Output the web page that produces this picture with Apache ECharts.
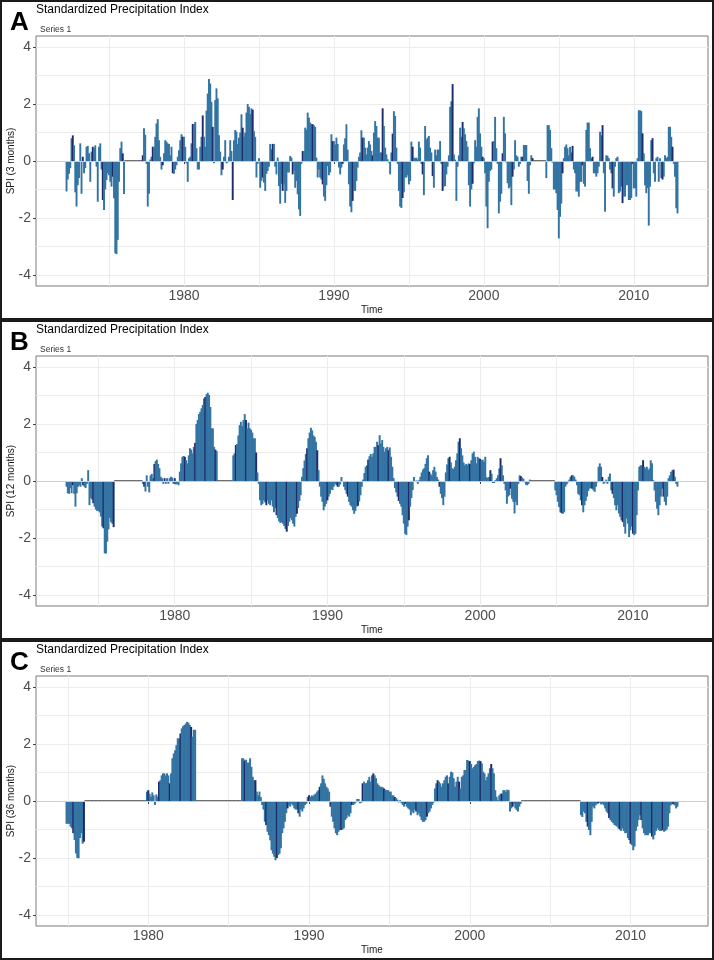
<!DOCTYPE html>
<html>
<head>
<meta charset="utf-8">
<script src="https://cdn.jsdelivr.net/npm/echarts@6/dist/echarts.min.js"></script>
<style>
html,body{margin:0;padding:0;background:#fff;}
#chart{width:714px;height:960px;}
</style>
</head>
<body>
<div id="chart"></div>
<script>
// ---------------- DATA ----------------
const chartTitle = 'Standardized Precipitation Index';
const seriesName = 'Series 1';
const panelLetters = ['A', 'B', 'C'];
const yAxisNames = ['SPI (3 months)', 'SPI (12 months)', 'SPI (36 months)'];
const xAxisName = 'Time';
const xTickLabels = [1980, 1990, 2000, 2010];
const xGridValues = [1975, 1980, 1985, 1990, 1995, 2000, 2005, 2010];
const yTickLabels = [-4, -2, 0, 2, 4];
const yGridValues = [-4, -3, -2, -1, 0, 1, 2, 3, 4];

// SPI 3 months, monthly from Mar 1972
const spi3Start = [1972, 3];
const spi3_1970s = [
  -1.07, -0.65, -0.45, -0.25, 0.8, 0.9, 0.55, -1.1, -1.6, -0.85,
  -0.6, 0.62, -1.15, 0.15, -0.43, -0.25, 0.5, 0.53, 0.27, -0.73, 0.33, 0.5,
  0.45, 0.55, -0.2, -1.43, 0.5, 0.62, -0.3, -1.37, -1.72, -1.0, -0.67, -0.43,
  -0.5, -0.73, -0.9, -0.55, -1.31, -3.24, -3.27, -2.77, -0.73, 0.45, 0.68, 0.27,
  -1.16, 0, 0, 0, 0, 0, 0, 0, 0, 0, 0, 0,
  0, 0, 0, 0.2, 1.15, 0.92, -0.1, -1.6, -1.15, 0.05, 0.15, 0.5,
  0.5, 0.85, 1.32, 1.47, 0.73, 0.15, -0.3, -0.15, 0.27, 0.73, 0.68, 0.62,
  0.6, 0.2, 0.5, -0.43, -0.45, -0.3, -0.15, 0.15, 0.38, 0.73, 0.94, 0.85
];
const spi3_1980s = [
  0.85, 0.5, -0.08, -0.73, 0.1, 0.15, 0.62, 1.3, 1.3, 1.37, 0.45, -0.3,
  -0.3, 0.5, 0.85, 1.6, 0.85, 0.5, 1.77, 2.37, 2.88, 2.72, 2.08, 1.2,
  -0.08, 2.14, 2.55, 2.2, 0.9, 0.33, -0.5, -0.3, 0.15, 0.73, -0.08, -0.05,
  0.15, 0.73, 0.35, -1.37, 0.73, 1.09, 1.03, 0.6, 0.82, 1.0, 1.64, 1.17,
  0.85, 1.0, 1.7, 2.0, 1.9, 1.65, 1.85, 1.8, 1.05, 0.85, -0.58, -0.1,
  0.1, -0.94, -0.7, -0.58, -0.76, -1.05, -0.45, -0.35, -0.2, 0.6, 0.41, 0.6,
  0.6, -0.2, -0.47, 0.12, -0.88, -1.5, -0.8, -1.05, -0.82, -1.47, -1.05, -0.4,
  -0.4, 0.18, 0.12, -0.47, -0.35, -0.94, -0.7, -1.17, -1.7, -1.93, -0.1, 0.35,
  0.35, 1.17, 1.1, 1.7, 1.52, 1.35, 1.3, 1.29, 1.25, 1.2, 0.12, -0.58,
  -0.3, -0.58, -0.65, -0.82, -1.25, -1.4, -0.85, -0.18, -0.5, -0.4, 0.94, 0.7
];
const spi3_1990s = [
  0.7, 0.58, 0.82, 0.6, -0.23, -0.47, -0.23, -0.1, 0.58, 0.8, 1.29, 0.4,
  -0.82, -1.6, -1.8, -1.4, -1.05, -1.05, -0.7, -0.23, 0.15, 0.3, 1.08, 0.82,
  0.82, 0.47, 0.23, 0.47, 0.7, 0.58, 0.35, 0.2, 1.0, 1.4, 1.23, 0.82,
  0.82, 0.3, 0.3, 1.85, 1.23, 0.47, 0.23, 0.06, -0.06, -0.47, 0.3, 0.96,
  1.75, 1.58, 0.47, -0.1, -1.05, -1.6, -1.65, -1.3, -1.1, -0.58, -0.58, -0.5,
  -0.82, -0.7, 0.68, 0.5, 0.12, 0.1, 0.12, 0.06, 0.68, 0.47, -0.1, -0.47,
  -1.2, 1.23, 0.76, 0.82, 0.88, 0.47, 0.3, -0.53, -0.94, 0.4, 0.2, 0.4,
  0.4, 0.7, -0.1, -1.05, -0.9, -0.88, -0.47, -0.2, 0.2, 1.9, 2.1, 2.7,
  0.23, 0.05, -1.4, -0.2, 0.2, 1.17, 0.85, 1.37, 1.15, 0.94, 0.7, 0.5,
  -0.85, -1.6, -1.0, -0.8, -0.08, 0.73, 0.5, 1.55, 1.85, 0.97, 0.5, 0.15
];
const spi3_2000s = [
  0.1, -0.43, -1.6, -2.36, -0.73, -0.35, -0.3, 0.68, 0.7, 1.55, 0.45, -0.1,
  -1.84, -1.43, -1.15, 0.27, 1.55, 0.97, -0.05, -0.78, -0.96, -0.9, -1.55, -0.55,
  -0.3, 0.73, 0.2, 0.15, -0.2, -0.1, 0.15, 0.15, 0.56, 0.56, 0.56, -0.7,
  -1.15, -0.15, 0.2, 0.1, 0, 0, 0, 0, 0, 0, 0, 0,
  0, 0, -0.6, 1.26, 1.26, 1.09, 0.45, -0.05, -1.0, -1.0, -1.13, -1.72,
  -2.72, -1.96, -1.5, -0.43, 0.1, 0.5, 0.58, 0.45, 0.2, 0.5, 0.3, 0.53,
  -0.3, -0.43, -1.07, -1.07, -1.25, -0.73, -0.73, -0.15, -0.8, -0.9, 1.09, 1.35,
  1.35, 0.45, 0.1, 0.15, -0.43, -0.43, -0.55, -0.43, -0.2, 1.03, 0.9, 1.26,
  -0.43, -1.78, 0.2, 0.18, 0.1, -0.3, -0.43, -0.96, -1.25, -0.2, 0.1, 0.15,
  -1.13, -1.07, -0.9, -1.48, -1.25, -1.25, -0.85, -0.85, -1.37, -1.37, -1.3, -0.1
];
const spi3_2010s = [
  -0.96, -0.96, -1.25, 0.1, 1.78, 1.78, 1.75, 0.97, 0.27, -0.85, -1.13, -0.95,
  -2.27, -0.9, 0.73, 0.8, -0.43, -0.73, 0.1, 0.15, -0.73, 0.1, -0.6, -0.65,
  -0.55, 0.2, 0.1, 0.15, 1.2, 1.2, 0.85, 0.5, -0.1, -0.55, -1.66, -1.84
];

// SPI 12 months, monthly from Dec 1972
const spi12Start = [1972, 12];
const spi12_1970s = [
  -0.2,
  -0.43, -0.45, -0.25, -0.43, -0.15, -0.45, -0.9, -0.43, -0.2, -0.15, -0.2, 0.1,
  -0.15, -0.2, -0.25, -0.1, 0.38, -0.85, -0.6, -0.65, -0.78, -0.9, -1.0, -1.05,
  -1.05, -1.1, -1.25, -1.6, -1.66, -2.54, -2.55, -2.13, -1.7, -1.3, -1.45, -1.5,
  -1.62, 0, 0, 0, 0, 0, 0, 0, 0, 0, 0, 0,
  0, 0, 0, 0, 0, 0, 0, 0, 0, 0, 0, -0.1,
  -0.2, -0.37, 0.2, -0.2, -0.4, 0.2, 0.25, 0.1, 0.6, 0.7, 0.75, 0.6,
  0.45, 0.15, 0.1, -0.1, 0.1, -0.1, 0.1, -0.1, 0.1, 0.15, 0.12, -0.1
];
const spi12_1980s = [
  0.1, -0.12, -0.1, -0.15, 0.33, 0.62, 0.85, 0.88, 0.85, 0.73, 0.62, 0.9,
  1.15, 1.1, 0.97, 1.2, 1.34, 2.0, 2.14, 2.35, 2.43, 2.55, 2.67, 2.9,
  2.95, 3.05, 3.1, 3.02, 2.6, 1.85, 1.85, 1.2, 1.1, 1.05, 0, 0,
  0, 0, 0, 0, 0, 0, 0, 0, 0, 0, 0.9, 0.97,
  1.26, 1.3, 1.6, 1.96, 2.08, 1.93, 2.14, 2.35, 2.14, 1.85, 2.05, 1.85,
  1.8, 1.7, 1.5, 1.5, 1.0, 0.3, -0.1, -0.68, -0.85, -0.8, -0.68, -0.75,
  -0.85, -0.68, -0.8, -0.85, -0.68, -0.9, -1.1, -0.95, -1.2, -1.3, -1.42, -1.47,
  -1.45, -1.5, -1.58, -1.68, -1.78, -1.58, -1.43, -1.3, -1.38, -1.5, -1.6, -1.26,
  -1.15, -0.95, -0.7, -0.5, 0.15, 0.45, 0.72, 0.95, 1.15, 1.5, 1.7, 1.87,
  1.78, 1.6, 1.55, 1.38, 1.08, 0.38, -0.2, -0.55, -0.73, -1.03, -0.9, -0.8
];
const spi12_1990s = [
  -0.68, -0.55, -0.45, -0.3, -0.32, -0.2, -0.1, -0.15, -0.2, -0.2, -0.12, 0.14,
  -0.03, -0.2, -0.32, -0.45, -0.55, -0.73, -0.85, -0.9, -1.03, -1.15, -1.05, -0.9,
  -0.87, -0.72, -0.5, -0.2, 0.05, 0.28, 0.5, 0.55, 0.75, 0.87, 0.95, 0.85,
  0.97, 1.2, 1.2, 1.38, 1.26, 1.61, 1.32, 1.44, 1.2, 1.03, 1.15, 1.2,
  1.08, 1.18, 0.85, 0.5, 0.1, -0.25, -0.4, -0.55, -0.7, -0.8, -0.9, -1.2,
  -1.5, -1.85, -1.9, -1.6, -1.38, -0.9, -0.6, -0.32, 0.14, -0.03, 0.02, -0.1,
  0.02, 0.15, 0.3, 0.4, 0.45, 0.6, 0.8, 0.9, 0.33, 0.26, 0.2, 0.38,
  0.5, 0.33, 0.14, 0.05, -0.2, -0.45, -0.6, -0.85, -0.55, 0.3, 0.58, 0.8,
  0.85, 0.65, 0.45, 0.42, 0.5, 0.73, 0.97, 1.38, 1.5, 1.15, 0.9, 0.65,
  0.55, 0.6, 0.57, 0.62, 0.6, 0.73, 0.97, 1.03, 0.85, 0.62, 0.85, 0.8
];
const spi12_2000s = [
  0.78, 0.73, 0.75, 0.68, 0.85, 0.14, 0.1, 0.14, 0.38, 0.26, -0.07, -0.07,
  0.03, 0.1, 0.2, 0.44, 0.8, 0.55, 0.2, -0.1, -0.33, -0.8, -0.55, -0.5,
  -0.27, -0.62, -0.73, -1.14, -0.73, -0.85, -0.1, 0.2, 0.17, 0.12, 0.08, -0.05,
  -0.13, -0.15, -0.1, 0.05, 0, 0, 0, 0, 0, 0, 0, 0,
  0, 0, 0, 0, 0, 0, 0, 0, 0, 0, 0, -0.33,
  -0.5, -0.73, -0.92, -1.1, -1.13, -1.15, -1.1, -0.2, -0.12, -0.05, 0.05, 0.15,
  0.2, 0.2, 0.15, 0.05, -0.15, -0.45, -0.5, -0.68, -0.85, -1.1, -0.85, -0.7,
  -0.55, -0.35, -0.27, -0.25, -0.27, -0.33, -0.38, -0.2, -0.05, 0.5, 0.62, 0.5,
  0.14, -0.1, -0.06, 0.05, -0.1, 0.15, 0.26, -0.33, -0.45, -0.6, -0.85, -1.03,
  -0.85, -1.14, -1.26, -1.38, -1.44, -1.61, -1.85, -1.32, -1.5, -1.97, -1.73, -1.6
];
const spi12_2010s = [
  -1.85, -1.9, -1.85, -1.2, -0.33, 0.5, 0.55, 0.55, 0.73, 0.5, 0.44, 0.5,
  0.38, 0.44, 0.73, 0.62, 0.02, -0.33, -0.73, -0.97, -1.2, -0.85, -0.55, -0.27,
  -0.55, -0.73, -0.85, -0.55, 0.1, 0.2, 0.32, 0.38, 0.4, 0.15, -0.1, -0.2
];

// SPI 36 months, monthly from Dec 1974
const spi36Start = [1974, 12];
const spi36_1970s = [
  -0.8,
  -0.8, -0.8, -0.9, -0.96, -1.13, -1.37, -1.84, -2.0, -2.01, -1.3, -1.13, -1.5,
  -1.43, 0, 0, 0, 0, 0, 0, 0, 0, 0, 0, 0,
  0, 0, 0, 0, 0, 0, 0, 0, 0, 0, 0, 0,
  0, 0, 0, 0, 0, 0, 0, 0, 0, 0, 0, 0,
  0, 0, 0, 0, 0, 0, 0, 0, 0, 0, 0, 0.33
];
const spi36_1980s = [
  0.38, 0.25, 0.15, 0.3, 0.2, -0.14, 0.23, 0.15, 0.68, 0.73, 0.9, 0.97,
  0.97, 0.9, 0.97, 0.9, 0.62, 0.97, 1.5, 1.67, 1.78, 1.96, 2.2, 2.2,
  2.37, 2.55, 2.63, 2.67, 2.72, 2.78, 2.75, 2.67, 2.6, 2.26, 2.5, 2.5,
  0, 0, 0, 0, 0, 0, 0, 0, 0, 0, 0, 0,
  0, 0, 0, 0, 0, 0, 0, 0, 0, 0, 0, 0,
  0, 0, 0, 0, 0, 0, 0, 0, 0, 0, 1.5, 1.5,
  1.42, 1.45, 1.35, 1.35, 1.5, 1.2, 0.85, 0.73, 0.73, 0.33, 0.2, 0.33,
  0.14, -0.14, -0.3, -0.73, -0.85, -1.08, -1.2, -1.38, -1.73, -1.85, -1.96, -2.08,
  -2.0, -1.9, -1.85, -1.66, -1.13, -0.96, -0.73, -0.43, -0.26, -0.15, -0.2, -0.1,
  -0.15, -0.26, -0.3, -0.3, -0.43, -0.55, -0.3, -0.37, -0.26, -0.14, -0.1, 0.14
];
const spi36_1990s = [
  0.2, 0.14, 0.2, 0.17, 0.23, 0.26, 0.33, 0.38, 0.5, 0.62, 0.9, 0.78,
  0.62, 0.5, 0.44, 0.33, -0.2, -0.55, -0.73, -0.96, -1.13, -1.2, -1.08, -1.02,
  -1.02, -1.0, -0.96, -0.67, -0.61, -0.5, -0.55, -0.43, -0.14, -0.14, -0.1, -0.05,
  0.07, 0.07, -0.08, -0.06, 0.62, 0.68, 0.62, 0.64, 0.73, 0.85, 0.68, 0.9,
  0.97, 0.9, 0.8, 0.62, 0.56, 0.5, 0.5, 0.48, 0.44, 0.4, 0.38, 0.38,
  0.33, 0.33, 0.2, 0.2, 0.14, 0.1, 0.05, -0.05, 0.03, -0.08, -0.14, -0.2,
  -0.1, -0.2, -0.26, -0.3, -0.5, -0.37, -0.43, -0.3, -0.37, -0.5, -0.43, -0.55,
  -0.67, -0.73, -0.73, -0.67, -0.55, -0.43, -0.37, -0.26, -0.14, -0.06, 0.44, 0.62,
  0.73, 0.68, 0.62, 0.5, 0.62, 0.73, 0.85, 0.9, 0.62, 0.85, 1.03, 1.0,
  0.8, 0.5, 0.68, 0.85, 0.68, 0.44, 0.85, 0.9, 1.09, 1.09, 1.44, 1.42
];
const spi36_2000s = [
  1.4, 1.3, 1.15, 1.2, 1.26, 1.3, 1.4, 1.42, 1.4, 1.32, 1.03, 0.97,
  0.73, 0.85, 0.97, 1.15, 1.3, 1.15, 0.97, 0.38, 0.15, 0.03, 0.2, 0.26,
  0.26, 0.38, 0.38, 0.33, 0.4, 0.38, -0.37, -0.26, -0.2, -0.1, -0.26, -0.32,
  -0.37, -0.2, -0.1, 0, 0, 0, 0, 0, 0, 0, 0, 0,
  0, 0, 0, 0, 0, 0, 0, 0, 0, 0, 0, 0,
  0, 0, 0, 0, 0, 0, 0, 0, 0, 0, 0, 0,
  0, 0, 0, 0, 0, 0, 0, 0, 0, 0, 0, -0.5,
  -0.56, -0.37, -0.43, -0.73, -0.9, -1.02, -1.2, -0.73, -0.2, -0.26, -0.15, -0.1,
  -0.08, -0.05, -0.12, -0.1, -0.15, -0.26, -0.37, -0.43, -0.6, -0.67, -0.73, -0.78,
  -0.84, -0.87, -0.9, -0.97, -1.0, -1.05, -0.96, -1.05, -1.13, -1.12, -1.3, -1.37
];
const spi36_2010s = [
  -1.5, -1.55, -1.73, -1.6, -1.05, -0.9, -0.67, -0.5, -0.67, -0.96, -1.13, -1.2,
  -1.2, -1.2, -1.13, -1.13, -1.25, -1.35, -1.2, -1.05, -0.96, -1.02, -1.05, -1.05,
  -1.02, -1.08, -1.05, -1.0, -0.9, -0.43, -0.15, -0.1, -0.12, -0.15, -0.26, -0.2
];

// ---------------- LAYOUT / STYLE ----------------
const W = 714, PANEL_H = 320;
const PLOT_L = 36, PLOT_W = 672, PLOT_TOP = 36, PLOT_H = 250;
const xRanges = [[1970.13, 2014.95], [1970.917, 2014.917], [1973.017, 2014.817]];
const yRange = [-4.39, 4.39];
const FONT = '"Liberation Sans", Arial, Helvetica, sans-serif';
const barFill = '#3374a3';
const barDark = '#1d2b6b';

function monthly(start, parts) {
  const vals = [].concat(...parts);
  return vals.map((v, i) => {
    const x = start[0] + (start[1] - 1 + i) / 12;
    if (v === 0) {
      return { value: [x, 0], itemStyle: { borderColor: '#555555', borderWidth: 1.6 } };
    }
    return [x, v];
  });
}

const panels = [
  monthly(spi3Start, [spi3_1970s, spi3_1980s, spi3_1990s, spi3_2000s, spi3_2010s]),
  monthly(spi12Start, [spi12_1970s, spi12_1980s, spi12_1990s, spi12_2000s, spi12_2010s]),
  monthly(spi36Start, [spi36_1970s, spi36_1980s, spi36_1990s, spi36_2000s, spi36_2010s])
];

const grids = [], xAxes = [], yAxes = [], series = [], graphics = [];

panels.forEach((data, i) => {
  const top = PANEL_H * i + PLOT_TOP;
  grids.push({ left: PLOT_L, top: top, width: PLOT_W, height: PLOT_H,
    show: true, borderColor: '#7a7a7a', borderWidth: 1, backgroundColor: 'transparent' });
  const [xmin, xmax] = xRanges[i];
  xAxes.push({ gridIndex: i, type: 'value', min: xmin, max: xmax, position: 'bottom',
    axisLine: { show: false },
    axisTick: { show: true, customValues: xTickLabels, length: 3, lineStyle: { color: '#444', width: 1 } },
    axisLabel: { customValues: xTickLabels, fontSize: 14, color: '#4d4d4d', margin: 3, fontFamily: FONT,
      formatter: v => String(Math.round(v)) },
    splitLine: { show: false } });
  xAxes.push({ gridIndex: i, type: 'value', min: xmin, max: xmax, position: 'top',
    axisLine: { show: false }, axisLabel: { show: false },
    axisTick: { show: false, customValues: xGridValues },
    splitLine: { show: true, lineStyle: { color: '#ececec', width: 1 } } });
  yAxes.push({ gridIndex: i, type: 'value', min: yRange[0], max: yRange[1], position: 'left',
    axisLine: { show: false },
    axisTick: { show: true, customValues: yTickLabels, length: 3, lineStyle: { color: '#444', width: 1 } },
    axisLabel: { customValues: yTickLabels, fontSize: 14, color: '#4d4d4d', margin: 5, fontFamily: FONT,
      formatter: v => String(Math.round(v)) },
    splitLine: { show: false } });
  yAxes.push({ gridIndex: i, type: 'value', min: yRange[0], max: yRange[1], position: 'right',
    axisLine: { show: false }, axisLabel: { show: false },
    axisTick: { show: false, customValues: yGridValues },
    splitLine: { show: true, lineStyle: { color: '#ececec', width: 1 } } });

  // bars slightly overlap so that antialiasing leaves no white seams
  const bw = PLOT_W / (xmax - xmin) / 12 * 0.9 + 0.8;
  series.push({
    type: 'bar', name: seriesName, xAxisIndex: 2 * i, yAxisIndex: 2 * i,
    data: data, barWidth: bw, barGap: '0%',
    itemStyle: {
      // the dark outlines of the original render as a navy look on every few bars
      color: p => (p.dataIndex % 8 === 5 ? barDark : barFill),
      borderWidth: 0
    },
    markLine: { silent: true, symbol: 'none', animation: false, label: { show: false },
      lineStyle: { color: '#cdcdcd', width: 1, type: 'solid' }, data: [{ yAxis: 0 }] },
    z: 3
  });

  const py = PANEL_H * i;
  graphics.push(
    { type: 'rect', shape: { x: 1, y: py + 1, width: W - 2, height: PANEL_H - 2 },
      style: { fill: 'none', stroke: '#1a1a1a', lineWidth: 2 }, z: 100 },
    { type: 'text', x: 10, y: py + 22.5, style: { text: panelLetters[i], font: 'bold 26px ' + FONT,
      fill: '#000', verticalAlign: 'middle', align: 'left' } },
    { type: 'text', x: 36, y: py + 10, style: { text: chartTitle, font: '12px ' + FONT,
      fill: '#000', verticalAlign: 'middle', align: 'left' } },
    { type: 'text', x: 40, y: py + 29.5, style: { text: seriesName, font: '8.5px ' + FONT,
      fill: '#333', verticalAlign: 'middle', align: 'left' } },
    { type: 'text', x: 11, y: py + PLOT_TOP + PLOT_H / 2, rotation: Math.PI / 2,
      style: { text: yAxisNames[i], font: '10px ' + FONT, fill: '#1a1a1a', verticalAlign: 'middle', align: 'center' } },
    { type: 'text', x: PLOT_L + PLOT_W / 2, y: py + 310, style: { text: xAxisName, font: '10px ' + FONT,
      fill: '#1a1a1a', verticalAlign: 'middle', align: 'center' } }
  );
});

const chart = echarts.init(document.getElementById('chart'), null, { renderer: 'canvas' });
chart.setOption({
  backgroundColor: '#ffffff',
  animation: false,
  grid: grids,
  xAxis: xAxes,
  yAxis: yAxes,
  series: series,
  graphic: graphics
});
</script>
</body>
</html>
